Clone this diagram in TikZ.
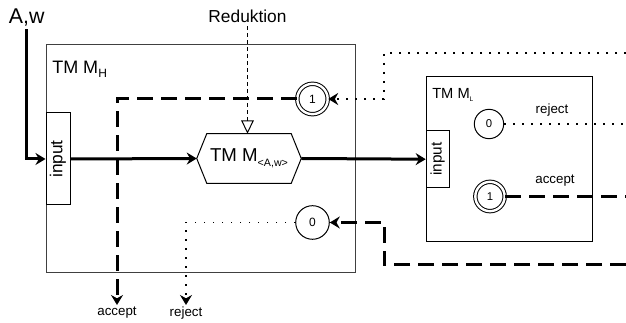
\documentclass[tikz,border=0pt]{standalone}
\usepackage{fontspec}
\setmainfont{Liberation Sans}
\usetikzlibrary{arrows.meta}
\begin{document}
\begin{tikzpicture}[x=0.75pt,y=-0.75pt,
  box/.style={draw, line width=0.75pt, inner sep=0pt},
  inbox/.style={draw, line width=0.75pt, fill=white, inner sep=0pt},
  st/.style={circle, draw, line width=0.75pt, inner sep=0pt, fill=white},
  acc/.style={st, double, double distance=1.8pt},
  tip/.style={-{Stealth[length=7.5pt,width=9pt,inset=2.5pt]}},
  thk/.style={line width=2.25pt},
  thkdash/.style={line width=2.25pt, dash pattern=on 12pt off 6pt},
  dotl/.style={line width=1.2pt, dash pattern=on 1.2pt off 5.55pt},
  lbl/.style={font=\fontsize{10}{10}\selectfont, inner sep=1pt}
]
\useasboundingbox (0,0) rectangle (626,323);
\coordinate (edgeR) at (626,0);

% M_H box
\node (MH) [box, draw=black!75, minimum width=231.75pt, minimum height=171pt] at (200.5,159) {};
\node (MHl) [anchor=base west, inner sep=0pt, font=\fontsize{13.5}{13.5}\selectfont] at (52,74)
  {TM M\raisebox{-3pt}{\fontsize{9}{9}\selectfont H}};

% input of M_H
\node (inH) [inbox, minimum width=18pt, minimum height=69pt] at (58,159)
  {\rotatebox{90}{\fontsize{13}{13}\selectfont input}};

% A,w
\node (aw) [anchor=base west, inner sep=2pt, font=\fontsize{16}{16}\selectfont] at (6,23.5) {A,w};
\draw[thk, tip] (aw.south) |- (inH.west);

% hexagon
\node (hex) [minimum width=78pt, minimum height=36.75pt, inner sep=0pt] at (249,158.5)
  {\fontsize{14}{14}\selectfont TM M\raisebox{-3.5pt}{\fontsize{8}{8}\selectfont <A,w>}};
\draw[line width=0.75pt] (hex.west) -- ([xshift=7.5pt]hex.north west) -- ([xshift=-7.5pt]hex.north east)
  -- (hex.east) -- ([xshift=-7.5pt]hex.south east) -- ([xshift=7.5pt]hex.south west) -- cycle;

% Reduktion
\node (red) [anchor=base, inner sep=2pt, font=\fontsize{13}{13}\selectfont] at (247.5,23) {Reduktion};
\draw[line width=0.75pt, dash pattern=on 3pt off 2.25pt, -{Triangle[open, length=10pt, width=9.5pt]}]
  (red.south) -- (red.south |- hex.north);

\draw[thk, tip] (inH.east) -- (hex.west);

% states of M_H
\node (H1) [acc, minimum size=22.8pt, font=\fontsize{9}{9}\selectfont] at (312.5,99) {1};
\node (H0) [st, minimum size=25.2pt, font=\fontsize{9}{9}\selectfont] at (312.5,222.5) {0};

% M_L box
\node (ML) [box, minimum width=124.5pt, minimum height=123.75pt] at (509,159.5) {};
\node (MLl) [anchor=base west, inner sep=0pt, font=\fontsize{11}{11}\selectfont] at (432,99)
  {TM M\raisebox{-2pt}{\fontsize{5}{5}\selectfont L}};
\node (inL) [inbox, minimum width=17.25pt, minimum height=42.75pt] at (437.7,159.2)
  {\rotatebox{90}{\fontsize{11.5}{11.5}\selectfont input}};
\draw[thk, tip] (hex.east) -- (inL.west);

\node (L0) [st, minimum size=22pt, font=\fontsize{8.5}{8.5}\selectfont] at (489,124) {0};
\node (L1) [acc, minimum size=22pt, font=\fontsize{8.5}{8.5}\selectfont] at (490,196.5) {1};
\node (rejL) [lbl, anchor=base] at (552,114) {reject};
\node (accL) [lbl, anchor=base] at (555,184) {accept};

\draw[dotl] (L0.east) -- (L0.east -| edgeR);
\draw[thkdash] (L1.east) -- (L1.east -| edgeR);

% outputs of M_H
\node (accH) [lbl, anchor=north] at (117,305) {accept};
\node (rejH) [lbl, anchor=north] at (186,305) {reject};
\draw[thkdash, tip] (H1.west) -| (accH.north);
\draw[dotl, tip] (H0.west) -| (rejH.north);

% feedback lines
\coordinate (tr) at (626,53);
\coordinate (k1) at (384,53);
\draw[dotl, tip] (tr) -- (k1) |- (H1.east);
\coordinate (br) at (626,265);
\coordinate (k2) at (384,265);
\draw[thkdash, tip] (br) -- (k2) |- (H0.east);
\end{tikzpicture}
\end{document}
